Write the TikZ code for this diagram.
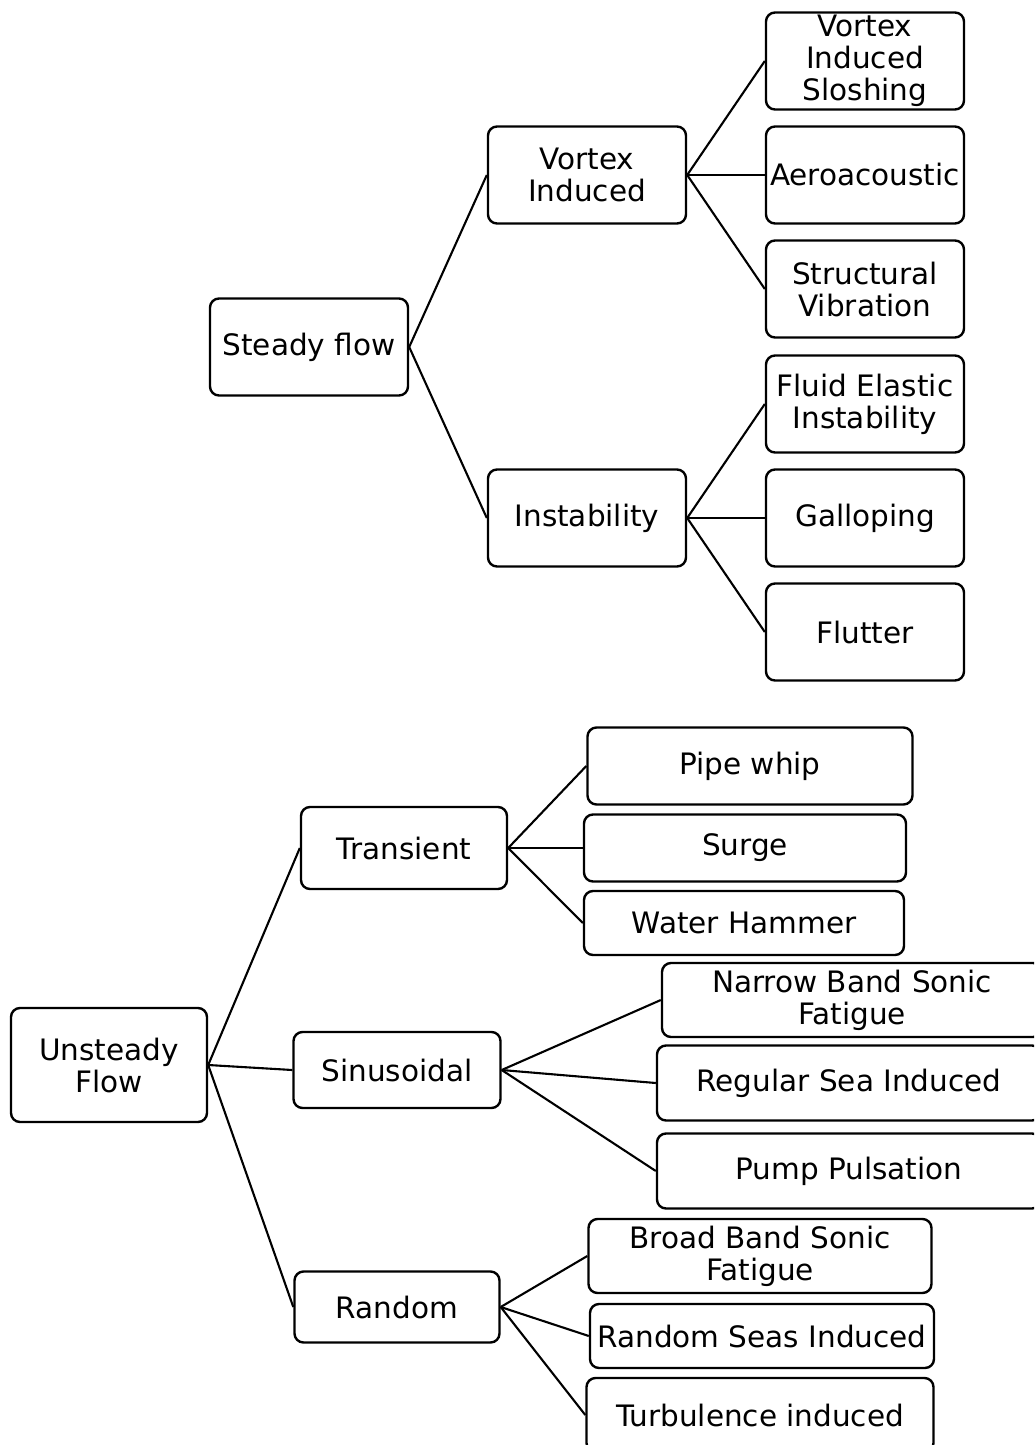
\documentclass[tikz,border=0pt]{standalone}
\usepackage{fontspec}
\setmainfont{DejaVu Sans}
\begin{document}
\begin{tikzpicture}[x=1pt,y=-1pt,
	box/.style={draw, rounded corners=9pt, line width=2.4pt, align=center, inner sep=0pt,
		minimum width=198pt, minimum height=97pt, font=\fontsize{29.5}{32}\selectfont},
	link/.style={line width=2.1pt}]
%		\draw [help lines] (0,0) grid (1034,1445);
		\clip (0,0) rectangle (1034,1445);
		%Steady flow
		\node [box] (steady) at (309,347) {Steady flow};
		\node [box] (vortex) at (587,175) {Vortex\\Induced};
		\node [box] (instab) at (587,518) {Instability};
		\node [box] (slosh) at (865,61) {Vortex\\Induced\\Sloshing};
		\node [box] (aero) at (865,175) {Aeroacoustic};
		\node [box] (struct) at (865,289) {Structural\\Vibration};
		\node [box] (fluid) at (865,404) {Fluid Elastic\\Instability};
		\node [box] (gallop) at (865,518) {Galloping};
		\node [box] (flutter) at (865,632) {Flutter};
		\draw [link] (steady.east) -- (vortex.west);
		\draw [link] (steady.east) -- (instab.west);
		\draw [link] (vortex.east) -- (slosh.west);
		\draw [link] (vortex.east) -- (aero.west);
		\draw [link] (vortex.east) -- (struct.west);
		\draw [link] (instab.east) -- (fluid.west);
		\draw [link] (instab.east) -- (gallop.west);
		\draw [link] (instab.east) -- (flutter.west);
		%Unsteady flow
		\node [box, minimum width=196pt, minimum height=114pt] (unsteady) at (109,1065) {Unsteady\\Flow};
		\node [box, minimum width=206pt, minimum height=82pt] (trans) at (404,848) {Transient};
		\node [box, minimum width=207pt, minimum height=76pt] (sinus) at (397,1070) {Sinusoidal};
		\node [box, minimum width=205pt, minimum height=71pt] (random) at (397,1307) {Random};
		%Transient
		\node [box, minimum width=325pt, minimum height=77pt] (whip) at (750,766) {Pipe whip};
		\node [box, minimum width=322pt, minimum height=67pt] (surge) at (745,848) {Surge};
		\node [box, minimum width=320pt, minimum height=64pt] (hammer) at (744,923) {Water Hammer};
		%Sinusoidal
		\node [box, minimum width=380pt, minimum height=74pt] (narrow) at (852,1000) {Narrow Band Sonic\\Fatigue};
		\node [box, minimum width=384pt, minimum height=75pt] (regular) at (849,1083) {Regular Sea Induced};
		\node [box, minimum width=384pt, minimum height=75pt] (pump) at (849,1171) {Pump Pulsation};
		%Random
		\node [box, minimum width=343pt, minimum height=74pt] (broad) at (760,1256) {Broad Band Sonic\\Fatigue};
		\node [box, minimum width=344pt, minimum height=64pt] (seas) at (762,1336) {Random Seas Induced};
		\node [box, minimum width=347pt, minimum height=74pt] (turb) at (760,1415) {Turbulence induced};
		\draw [link] (unsteady.east) -- (trans.west);
		\draw [link] (unsteady.east) -- (sinus.west);
		\draw [link] (unsteady.east) -- (random.west);
		\draw [link] (trans.east) -- (whip.west);
		\draw [link] (trans.east) -- (surge.west);
		\draw [link] (trans.east) -- (hammer.west);
		\draw [link] (sinus.east) -- (narrow.west);
		\draw [link] (sinus.east) -- (regular.west);
		\draw [link] (sinus.east) -- (pump.west);
		\draw [link] (random.east) -- (broad.west);
		\draw [link] (random.east) -- (seas.west);
		\draw [link] (random.east) -- (turb.west);
\end{tikzpicture}
\end{document}
